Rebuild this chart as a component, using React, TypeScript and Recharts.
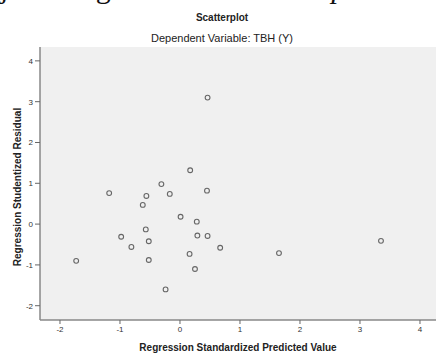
import { ScatterChart, Scatter, XAxis, YAxis, CartesianGrid, Label } from "recharts";

// Regression standardized predicted value (x) vs studentized residual (y)
const predicted = [
  0.46, 0.17, -0.31, -1.18, -0.56, -0.17, 0.45, -0.62, 0.01, 0.28, -0.57, -0.98,
  -0.52, 0.29, 0.46, 0.67, -0.81, -1.73, 0.16, -0.52, 0.25, -0.24, 1.65, 3.35,
];
const residual = [
  3.1, 1.32, 0.98, 0.76, 0.69, 0.74, 0.82, 0.47, 0.18, 0.06, -0.13, -0.31,
  -0.42, -0.28, -0.29, -0.58, -0.56, -0.9, -0.73, -0.88, -1.1, -1.6, -0.71, -0.41,
];
const xTicks = [-2, -1, 0, 1, 2, 3, 4];
const yTicks = [-2, -1, 0, 1, 2, 3, 4];

const points = predicted.map((x, i) => ({ x, y: residual[i] }));

const font = "'Liberation Sans', Arial, sans-serif";
const tickStyle = { fontSize: 8, fill: "#333", fontFamily: font };

const Ring = (props: any) => (
  <circle cx={props.cx} cy={props.cy} r={2.4} fill="none" stroke="#666" strokeWidth={1.1} />
);

export default function App() {
  return (
    <div
      style={{
        position: "fixed", left: 0, top: 0, width: 436, height: 353,
        overflow: "hidden", background: "#fff",
      }}
    >
      <div
        style={{
          position: "absolute", left: -15, top: -27, whiteSpace: "nowrap",
          fontFamily: "'Liberation Serif', 'Times New Roman', serif", fontSize: 30,
          lineHeight: "30px", color: "#111",
        }}
      >
        ujian dengan metode <i>scatter plot.</i>
      </div>
      <div
        style={{
          position: "absolute", left: 0, width: 444, top: 12, textAlign: "center",
          fontFamily: font, fontSize: 10, fontWeight: "bold", color: "#222",
        }}
      >
        Scatterplot
      </div>
      <div
        style={{
          position: "absolute", left: 0, width: 444, top: 32, textAlign: "center",
          fontFamily: font, fontSize: 11, color: "#222",
        }}
      >
        Dependent Variable: TBH (Y)
      </div>
      <ScatterChart
        width={436}
        height={353}
        margin={{ top: 47, right: 0, bottom: 0, left: 0 }}
        style={{ position: "absolute", left: 0, top: 0 }}
      >
        <CartesianGrid fill="#f0f0f0" stroke="none" horizontal={false} vertical={false} />
        <XAxis
          xAxisId="top"
          orientation="top"
          type="number"
          dataKey="x"
          domain={[-2.333, 4.267]}
          height={0}
          tick={false}
          tickLine={false}
          axisLine={{ stroke: "#888", strokeWidth: 1.5 }}
        />
        <XAxis
          type="number"
          dataKey="x"
          domain={[-2.333, 4.267]}
          ticks={xTicks}
          allowDataOverflow
          height={33}
          tickSize={4}
          tick={tickStyle}
          tickLine={{ stroke: "#666" }}
          axisLine={{ stroke: "#888", strokeWidth: 1.5 }}
        >
          <Label
            value="Regression Standardized Predicted Value"
            position="insideBottom"
            offset={2}
            style={{ fontSize: 10, fontWeight: "bold", fill: "#222", fontFamily: font }}
          />
        </XAxis>
        <YAxis
          type="number"
          dataKey="y"
          domain={[-2.35, 4.34]}
          ticks={yTicks}
          allowDataOverflow
          width={40}
          tickSize={5}
          tick={tickStyle}
          tickLine={{ stroke: "#666" }}
          axisLine={{ stroke: "#888", strokeWidth: 1.5 }}
        />
        <Scatter data={points} xAxisId={0} shape={Ring} isAnimationActive={false} />
      </ScatterChart>
      <div
        style={{
          position: "absolute", left: 18, top: 187, width: 0, height: 0,
        }}
      >
        <div
          style={{
            position: "absolute", left: -100, top: -7, width: 200, textAlign: "center",
            transform: "rotate(-90deg)", fontFamily: font, fontSize: 10,
            fontWeight: "bold", color: "#222", lineHeight: "14px", whiteSpace: "nowrap",
          }}
        >
          Regression Studentized Residual
        </div>
      </div>
    </div>
  );
}
